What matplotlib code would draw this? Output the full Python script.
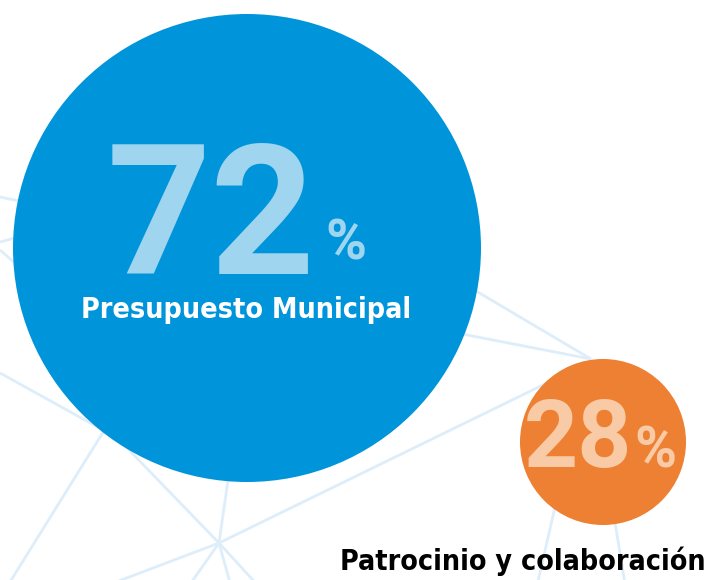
import matplotlib.pyplot as plt
from matplotlib.patches import Circle

# 財源の内訳
shares = [72, 28]
labels = ["Presupuesto Municipal", "Patrocinio y colaboración"]

W, H = 712, 580
DPI = 100

BLUE = "#0095da"
ORANGE = "#ee8033"
LIGHT_BLUE = "#a0d5f0"
PEACH = "#f9caa6"
NET = "#ddeefa"

NUM_FONT = ["Roboto", "DejaVu Sans"]
LABEL_FONT = ["DejaVu Sans"]

# 背景の網目 (ピクセル座標, 上から下へ)
net_lines = [
    [(0, 197), (120, 222)],
    [(0, 242), (100, 215)],
    [(0, 250), (80, 320)],
    [(0, 373), (150, 456)],
    [(219, 543), (100, 420)],
    [(219, 543), (238, 410)],
    [(219, 543), (95, 590)],
    [(219, 543), (186, 590)],
    [(219, 543), (232, 590)],
    [(219, 543), (262, 590)],
    [(219, 543), (590, 362)],
    [(120, 405), (5, 590)],
    [(400, 246), (591, 359)],
    [(400, 322), (591, 359)],
    [(575, 420), (536, 590)],
    [(600, 430), (626, 590)],
]


def main():
    fig = plt.figure(figsize=(W / DPI, H / DPI), dpi=DPI)
    ax = fig.add_axes([0, 0, 1, 1])
    ax.set_xlim(0, W)
    ax.set_ylim(H, 0)
    ax.set_aspect("equal")
    ax.axis("off")

    for seg in net_lines:
        xs = [p[0] for p in seg]
        ys = [p[1] for p in seg]
        ax.plot(xs, ys, color=NET, lw=2.0, zorder=1, solid_capstyle="butt")

    # 円
    ax.add_patch(Circle((247, 248), 234, color=BLUE, zorder=2, lw=0))
    ax.add_patch(Circle((603, 442), 83, color=ORANGE, zorder=2, lw=0))

    # 72%
    ax.text(315, 274, str(shares[0]), family=NUM_FONT, weight="bold",
            size=131, color=LIGHT_BLUE, ha="right", va="baseline", zorder=3)
    ax.text(325, 260, "%", family=NUM_FONT, weight="bold",
            size=40, color=LIGHT_BLUE, ha="left", va="baseline", zorder=3)
    ax.text(246, 318, labels[0], family=LABEL_FONT, weight="bold",
            stretch="condensed", size=20.5, color="white",
            ha="center", va="baseline", zorder=3)

    # 28%
    ax.text(632, 467, str(shares[1]), family=NUM_FONT, weight="bold",
            size=68, color=PEACH, ha="right", va="baseline", zorder=3)
    ax.text(634, 467, "%", family=NUM_FONT, weight="bold",
            size=41, color=PEACH, ha="left", va="baseline", zorder=3)
    ax.text(706, 570, labels[1], family=LABEL_FONT, weight="bold",
            stretch="condensed", size=20.5, color="black",
            ha="right", va="baseline", zorder=3)

    fig.savefig("out.png", dpi=DPI, facecolor="white")


if __name__ == "__main__":
    main()
